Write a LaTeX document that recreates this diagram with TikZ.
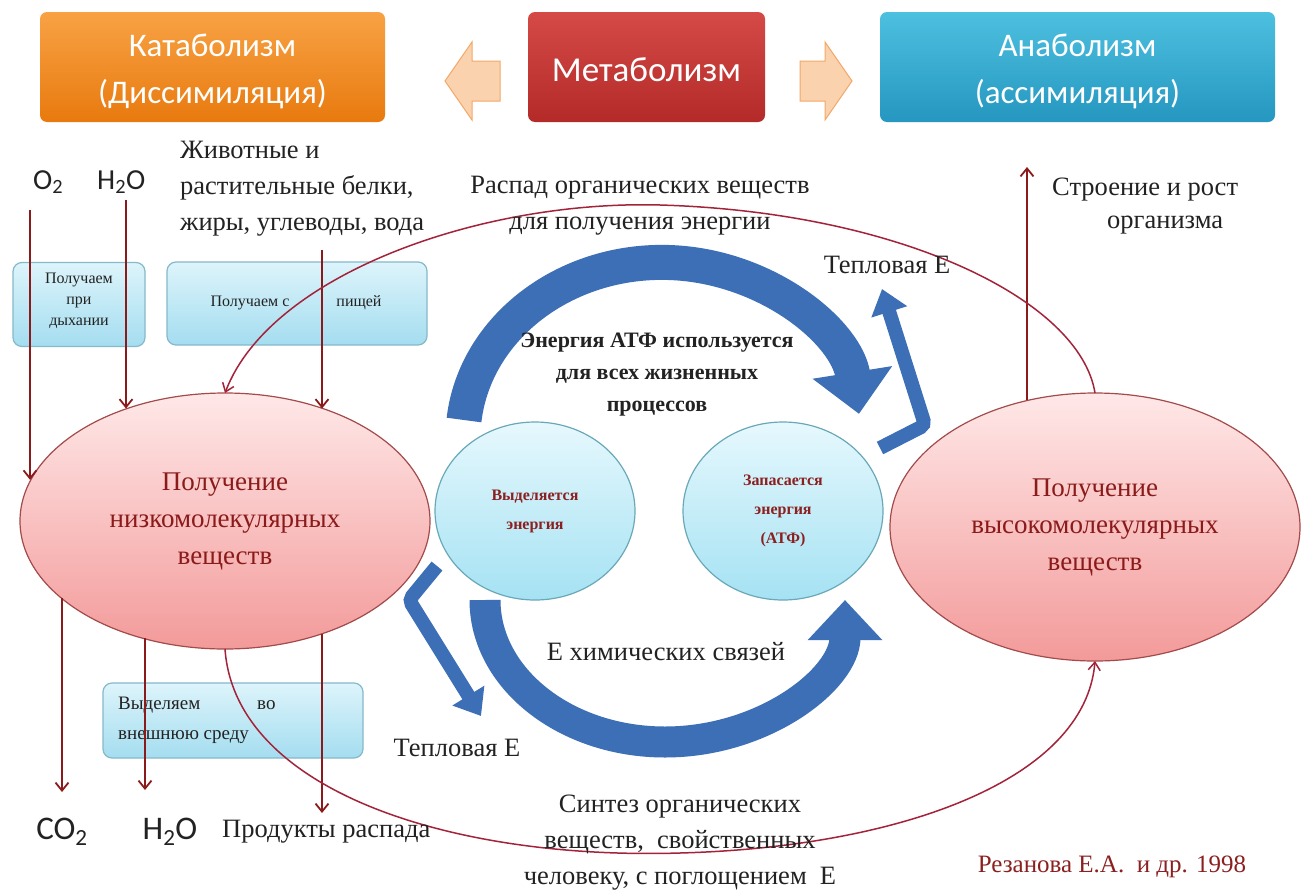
\documentclass[tikz,border=0pt]{standalone}
\usepackage{fontspec}
\setmainfont{Liberation Serif}
\newfontfamily\calfont{Carlito}
\usetikzlibrary{arrows.meta,shapes.geometric,calc}
\definecolor{dred}{HTML}{8B1A1A}
\definecolor{cred}{HTML}{A3243A}
\definecolor{abl}{HTML}{3D6FB6}
\definecolor{txt}{HTML}{222222}
\definecolor{lbt}{HTML}{DDF4FB}
\definecolor{lbb}{HTML}{A4DDF0}
\definecolor{lbd}{HTML}{86B9CA}
\definecolor{pkt}{HTML}{FFE8E8}
\definecolor{pkb}{HTML}{F39A9A}
\definecolor{pkd}{HTML}{A34A4A}
\definecolor{cyt}{HTML}{E6F8FD}
\definecolor{cyb}{HTML}{A5E2F3}
\definecolor{cyd}{HTML}{6AA8B8}
\definecolor{pch}{HTML}{FBD2AE}
\definecolor{pchd}{HTML}{F2A868}
\definecolor{ort}{HTML}{F8A245}
\definecolor{orb}{HTML}{E87A0E}
\definecolor{rdt}{HTML}{D54A47}
\definecolor{rdb}{HTML}{B32A28}
\definecolor{cnt}{HTML}{4DC0E0}
\definecolor{cnb}{HTML}{2597C0}
\definecolor{ctx}{HTML}{8B2020}
\begin{document}
\begin{tikzpicture}[x=1pt,y=1pt,
 hdr/.style={rounded corners=7, inner sep=0pt, minimum height=110},
 hdrtext/.style={text=white, align=center, inner sep=0pt, font=\calfont\fontsize{33}{47}\selectfont},
 lbox/.style={rounded corners=9, draw=lbd, line width=1.2, top color=lbt, bottom color=lbb, inner sep=0},
 pinkell/.style={ellipse, draw=pkd, line width=1.2, top color=pkt, bottom color=pkb, inner sep=0, outer sep=0, align=center, text=dred, font=\fontsize{27}{37}\selectfont},
 cyell/.style={ellipse, draw=cyd, line width=1.2, top color=cyt, bottom color=cyb, inner sep=0, outer sep=0, align=center, text=ctx, font=\bfseries\fontsize{16}{29}\selectfont, minimum width=200, minimum height=178},
 lbl/.style={text=txt, font=\fontsize{26.5}{36}\selectfont, inner sep=0, align=center},
 small/.style={text=txt, font=\fontsize{16}{21}\selectfont, inner sep=0, align=center},
 chem/.style={text=txt, font=\calfont\fontsize{29}{34}\selectfont, inner sep=0},
 redarr/.style={draw=dred, line width=1.8, -{Straight Barb[length=8,width=13]}},
 redcurve/.style={draw=cred, line width=1.5, -{Straight Barb[length=8,width=12]}},
 blk/.style={fill=pch, draw=pchd, line width=1}
]
\useasboundingbox (0,0) rectangle (1306,-894);
\fill[white] (0,0) rectangle (1306,-894);

% header
\node[hdr, minimum width=345, top color=ort, bottom color=orb] (kat) at (212.5,-67) {};
\node[hdrtext] (katt) at ($(kat)+(0,-4)$) {Катаболизм\\(Диссимиляция)};
\node[hdr, minimum width=237, top color=rdt, bottom color=rdb] (met) at (646.5,-67) {};
\node[hdrtext, font=\calfont\fontsize{35}{47}\selectfont] (mett) at ($(met)+(0,-3)$) {Метаболизм};
\node[hdr, minimum width=395, top color=cnt, bottom color=cnb] (ana) at (1077.5,-67) {};
\node[hdrtext] (anat) at ($(ana)+(0,-4)$) {Анаболизм\\(ассимиляция)};
\draw[blk] (445,-81) -- (472,-42) -- (472,-61) -- (500,-61) -- (500,-101) -- (472,-101) -- (472,-120) -- cycle;
\draw[blk] (852,-81) -- (825,-42) -- (825,-61) -- (800,-61) -- (800,-101) -- (825,-101) -- (825,-120) -- cycle;

% light blue boxes
\node[lbox, minimum width=132, minimum height=84] (resp) at (79,-304.5) {};
\node[small] at (79,-301) {Получаем\\при\\дыхании};
\node[lbox, minimum width=260, minimum height=83] (food) at (297,-303.5) {};
\node[small] at (250,-303) {Получаем с};
\node[small] at (359,-303) {пищей};
\node[lbox, minimum width=260, minimum height=75] (outb) at (233,-720.5) {};
\node[small, font=\fontsize{19}{21}\selectfont, anchor=west] at (118,-705) {Выделяем};
\node[small, font=\fontsize{19}{21}\selectfont, anchor=west] at (257,-705) {во};
\node[small, font=\fontsize{19}{21}\selectfont, anchor=west] at (118,-737) {внешнюю среду};

% ellipses
\node[pinkell, minimum width=410, minimum height=256] (L) at (225,-521) {Получение\\низкомолекулярных\\веществ};
\node[pinkell, minimum width=410, minimum height=268] (R) at (1095,-527) {Получение\\высокомолекулярных\\веществ};
\node[cyell] (C1) at (535,-511) {Выделяется\\энергия};
\node[cyell] (C2) at (783,-511) {Запасается\\энергия\\(АТФ)};

% big blue arrows
\draw[abl, line width=35, -{Triangle[length=42,width=78]}] (464,-420) arc[start angle=174, end angle=8, x radius=199, y radius=176];
\draw[abl, line width=31, -{Triangle[length=40,width=72]}] (485,-600) arc[start angle=180, end angle=360, x radius=180, y radius=142];
\draw[abl, line width=14, rounded corners=5, -{Triangle[length=24,width=36]}] (437,-566) -- (409,-600) -- (481,-716);
\draw[abl, line width=14, rounded corners=5, -{Triangle[length=24,width=36]}] (880,-448) -- (925,-425) -- (882,-289);

% red arrows
\coordinate (o2t) at (30,-210);
\coordinate (h2t) at (126,-200);
\coordinate (ft) at (322,-250);
\coordinate (co2b) at (62,-792);
\coordinate (h2b) at (145,-790);
\coordinate (prb) at (322,-813);
\coordinate (gt) at (1027,-167);
\draw[redarr] (o2t) -- (o2t |- L.168.5);
\draw[redarr] (h2t) -- (h2t |- L.131.5);
\draw[redarr] (ft) -- (ft |- L.49.3);
\draw[redarr] (co2b |- L.205.5) -- (co2b);
\draw[redarr] (h2b |- L.235.8) -- (h2b);
\draw[redarr] (prb |- L.310.7) -- (prb);
\draw[redarr] (gt |- R.118.3) -- (gt);

% red curves
\draw[redcurve] (R.north) .. controls (1080,-300) and (900,-212) .. (660,-205) .. controls (480,-200) and (270,-275) .. (L.north);
\draw[redcurve] (L.south) .. controls (235,-790) and (450,-860) .. (680,-853) .. controls (900,-847) and (1085,-780) .. (R.south);

% labels
\node[chem, anchor=west] (o2) at (33,-182) {O\textsubscript{2}};
\node[chem, anchor=west] (h2o) at (97,-182) {H\textsubscript{2}O};
\node[lbl, align=left, anchor=west] (food1) at (180,-189) {Животные и\\растительные белки,\\жиры, углеводы, вода};
\node[lbl] (rasp) at (640,-206) {Распад органических веществ\\для получения энергии};
\node[lbl] (heat1) at (887,-265) {Тепловая Е};
\node[lbl, anchor=west] (str1) at (1052,-190) {Строение и рост};
\node[lbl, anchor=west] (str2) at (1107,-225) {организма};
\node[lbl, font=\bfseries\fontsize{22}{32}\selectfont] (atp) at (657,-375) {Энергия АТФ используется\\для всех жизненных\\процессов};
\node[lbl] (chemE) at (666,-652) {Е химических связей};
\node[lbl] (heat2) at (457,-748) {Тепловая Е};
\node[lbl] (synt) at (680,-843) {Синтез органических\\веществ,\ \ свойственных\\человеку, с поглощением\ \ Е};
\node[chem, font=\calfont\fontsize{33}{36}\selectfont] (co2) at (62,-832) {CO\textsubscript{2}};
\node[chem, font=\calfont\fontsize{33}{36}\selectfont] (h2ob) at (170,-832) {H\textsubscript{2}O};
\node[lbl, anchor=west] (prod) at (222,-832) {Продукты распада};
\node[lbl, text=ctx, font=\fontsize{25}{28}\selectfont] (auth) at (1112,-867) {Резанова Е.А.\ \ и др. 1998};
\end{tikzpicture}
\end{document}
